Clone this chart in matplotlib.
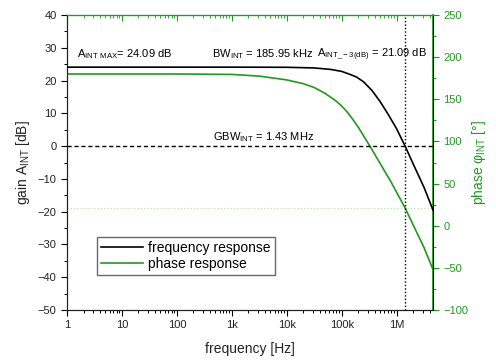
import matplotlib
matplotlib.use("Agg")
import matplotlib.pyplot as plt
from matplotlib.ticker import FixedLocator, MultipleLocator, LogLocator, NullFormatter

plt.rcParams['font.family'] = ['Liberation Sans', 'DejaVu Sans']
plt.rcParams['mathtext.fontset'] = 'custom'
plt.rcParams['mathtext.rm'] = 'Liberation Sans'

# ---- data ----
freq_gain = [1, 10, 100, 1e3, 1e4, 3.16e4, 6.3e4, 1e5, 1.41e5, 1.86e5, 2.51e5, 3.55e5,
             5.01e5, 7.08e5, 1e6, 1.43e6, 2e6, 3.16e6, 4.6e6]
gain_db = [24.09, 24.09, 24.09, 24.09, 24.05, 23.85, 23.4, 22.8, 21.9, 21.09, 19.6,
           17.0, 13.6, 9.6, 5.3, 0.0, -5.4, -12.6, -19.5]

freq_phase = [1, 10, 100, 1e3, 3.16e3, 1e4, 2e4, 3.16e4, 5e4, 7.9e4, 1e5, 1.26e5,
              1.58e5, 2e5, 3.16e5, 5e5, 7.9e5, 1.43e6, 2e6, 3.16e6, 4.6e6]
phase_deg = [180, 180, 180, 179.5, 177.5, 173, 168.5, 164, 157, 148, 142, 135,
             126.5, 117, 96, 74, 52, 21, 1, -26, -52]

x_ticks = [1, 10, 100, 1e3, 1e4, 1e5, 1e6]
x_ticklabels = ["1", "10", "100", "1k", "10k", "100k", "1M"]

gbw = 1.43e6
phase_margin = 21

green = '#1f9a1f'
txtc = '#222222'

fig = plt.figure(figsize=(4.96, 3.6), dpi=100)
ax = fig.add_axes([67/496, 1-310/360, 366/496, 295/360])
ax2 = ax.twinx()

ax.plot(freq_gain, gain_db, color='black', lw=1.2, label='frequency response', zorder=3)
ax2.plot(freq_phase, phase_deg, color=green, lw=1.2, zorder=3)
ax.plot([], [], color=green, lw=1.2, label='phase response')

ax.set_xscale('log')
ax.set_xlim(1, 4.6e6)
ax.set_ylim(-50, 40)
ax2.set_ylim(-100, 250)

ax.axhline(0, color='black', ls=(0, (3, 2)), lw=1.0, zorder=2)
ax.axvline(gbw, color='black', ls=(0, (1, 1.5)), lw=1.0, zorder=2)
ax2.axhline(phase_margin, color='#b5dcb5', ls=(0, (1, 2)), lw=0.8, zorder=1)

ax.xaxis.set_major_locator(FixedLocator(x_ticks))
ax.set_xticklabels(x_ticklabels)
ax.xaxis.set_minor_locator(LogLocator(base=10, subs=range(2, 10), numticks=20))
ax.xaxis.set_minor_formatter(NullFormatter())
ax.yaxis.set_major_locator(MultipleLocator(10))
ax.yaxis.set_minor_locator(MultipleLocator(5))
ax2.yaxis.set_major_locator(MultipleLocator(50))
ax2.yaxis.set_minor_locator(MultipleLocator(25))

ax.tick_params(axis='both', which='major', labelsize=8, labelcolor=txtc, length=4, width=0.8, direction='out')
ax.tick_params(axis='both', which='minor', length=2.5, width=0.7, direction='out')
ax2.tick_params(axis='y', which='major', labelsize=8, labelcolor=green, color=green, length=4, width=0.8, direction='out')
ax2.tick_params(axis='y', which='minor', color=green, length=2.5, width=0.7, direction='out')

sec = ax.secondary_xaxis('top')
sec.set_xticks(x_ticks)
sec.xaxis.set_minor_locator(LogLocator(base=10, subs=range(2, 10), numticks=20))
sec.tick_params(which='both', direction='in', color=green, labeltop=False, length=4)
sec.tick_params(which='minor', length=2.5)
sec.spines['top'].set_color(green)
sec.xaxis.set_minor_formatter(NullFormatter())
sec.set_xticklabels([])

for s in ['left', 'bottom']:
    ax.spines[s].set_color('#222222')
ax2.spines['right'].set_color(green)
ax2.spines['right'].set_linewidth(1.2)
ax2.spines['top'].set_color(green)
ax.spines['top'].set_color(green)

ax.set_xlabel('frequency [Hz]', fontsize=10, color=txtc, labelpad=8)
ax.set_ylabel(r'gain A$_{\rm INT}$ [dB]', fontsize=10, color=txtc, labelpad=4)
ax2.set_ylabel('phase φ$_{\\rm INT}$ [°]', fontsize=10, color=green, labelpad=1)

tk = dict(fontsize=8, color='black', transform=ax.transData, va='center', zorder=5)
ax.text(1.5, 28.0, r'A$_{\rm INT\ MAX}$= 24.09 dB', ha='left', **tk)
ax.text(430, 28.0, r'BW$_{\rm INT}$ = 185.95 kHz', ha='left', **tk)
ax.text(3.6e4, 28.0, r'A$_{\rm INT\_-3(dB)}$ = 21.09 dB', ha='left', **tk)
ax.text(450, 2.8, r'GBW$_{\rm INT}$ = 1.43 MHz', ha='left', **tk)

leg = ax.legend(loc='lower left', bbox_to_anchor=(0.082, 0.118), fontsize=10,
                frameon=True, fancybox=False, handlelength=3.0, borderpad=0.3,
                labelspacing=0.15, handletextpad=0.4, borderaxespad=0)
leg.get_frame().set_edgecolor('#444444')
leg.get_frame().set_linewidth(1.0)

ax.set_zorder(ax2.get_zorder() + 1)
ax.patch.set_visible(False)

fig.savefig('out.png', dpi=100)
